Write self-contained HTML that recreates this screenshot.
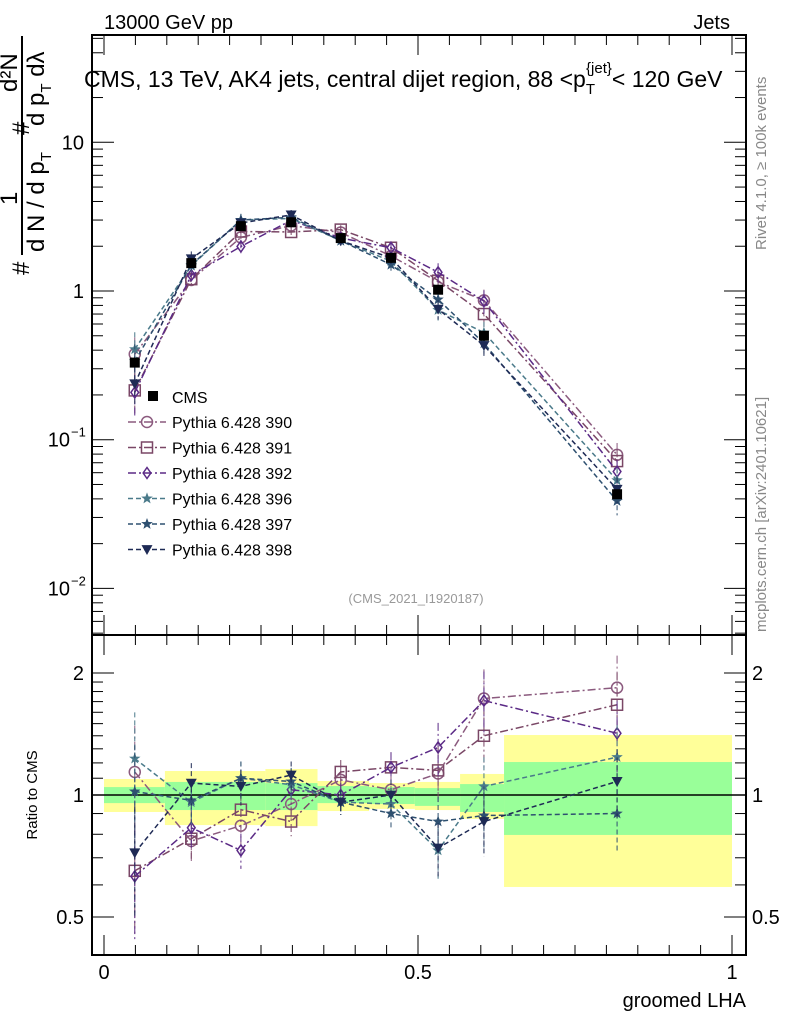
<!DOCTYPE html>
<html><head><meta charset="utf-8"><style>
body{margin:0;background:#fff;}
svg text{font-family:"Liberation Sans",sans-serif;}
</style></head><body>
<svg id="c" width="786" height="1024" xmlns="http://www.w3.org/2000/svg">
<rect width="786" height="1024" fill="#fff"/>
<text x="104" y="29" font-size="20">13000 GeV pp</text>
<text x="730" y="29" font-size="20" text-anchor="end">Jets</text>
<text x="84" y="87" font-size="23">CMS, 13 TeV, AK4 jets, central dijet region, 88 &lt;p<tspan font-size="15" dy="7">T</tspan><tspan font-size="15" dy="-21" dx="-9">{jet}</tspan><tspan dy="14">&lt; 120 GeV</tspan></text>
<text transform="translate(766,250) rotate(-90)" font-size="15" fill="#888">Rivet 4.1.0, ≥ 100k events</text>
<text transform="translate(766,632) rotate(-90)" font-size="15" fill="#888">mcplots.cern.ch [arXiv:2401.10621]</text>
<g>
<text transform="translate(29,275) rotate(-90)" font-size="24">#</text>
<text transform="translate(17,205) rotate(-90)" font-size="24">1</text>
<line x1="22" y1="255" x2="22" y2="36" stroke="#000" stroke-width="2"/>
<text transform="translate(44,252) rotate(-90)" font-size="24">d N / d p<tspan font-size="15" dy="7">T</tspan></text>
<text transform="translate(29,135) rotate(-90)" font-size="24">#</text>
<text transform="translate(17,92) rotate(-90)" font-size="24">d²N</text>
<text transform="translate(44,126) rotate(-90)" font-size="24">d p<tspan font-size="15" dy="7">T</tspan><tspan dy="-7"> dλ</tspan></text>
</g>
<text x="416" y="603" font-size="13" fill="#999" text-anchor="middle">(CMS_2021_I1920187)</text>
<text transform="translate(37,795) rotate(-90)" font-size="15" text-anchor="middle">Ratio to CMS</text>
<text x="746" y="1007" font-size="20" text-anchor="end">groomed LHA</text>
<g id="bands"></g><g id="axes"></g><g id="series"></g><g id="legend"></g>
</svg>
<script>
const xVals=[0.049,0.139,0.218,0.298,0.377,0.457,0.532,0.605,0.817];
const binEdges=[0,0.097,0.257,0.34,0.422,0.495,0.567,0.637,1.0];
const cmsVals=[0.33,1.54,2.73,2.9,2.27,1.67,1.02,0.5,0.043];
const yellowLo=[0.908,0.843,0.838,0.913,0.924,0.918,0.873,0.593];
const yellowHi=[1.095,1.146,1.159,1.083,1.07,1.077,1.127,1.406];
const greenLo=[0.955,0.918,0.918,0.955,0.95,0.94,0.908,0.797];
const greenHi=[1.046,1.077,1.07,1.052,1.046,1.04,1.064,1.206];
const r390=[1.14,0.77,0.84,0.95,1.09,1.03,1.13,1.73,1.84];
const r391=[0.65,0.78,0.92,0.86,1.14,1.17,1.15,1.4,1.67];
const r392=[0.63,0.83,0.73,1.03,1.0,1.17,1.31,1.71,1.42];
const r396=[1.23,0.96,1.1,1.06,0.96,0.95,0.73,1.05,1.24];
const r397=[1.02,0.97,1.1,1.08,0.96,0.9,0.86,0.89,0.9];
const r398=[0.72,1.07,1.05,1.12,0.96,1.0,0.74,0.86,1.08];
const relErr=[0.3,0.12,0.1,0.08,0.07,0.09,0.15,0.18,0.2];
const names=["Pythia 6.428 390","Pythia 6.428 391","Pythia 6.428 392","Pythia 6.428 396","Pythia 6.428 397","Pythia 6.428 398"];
const ratios=[r390,r391,r392,r396,r397,r398];
const colors=["#8b5a7e","#7a4766","#5b2a86","#4a7a8a","#2e5070","#1e2a55"];
const dashes=["8,3,2,3","8,3,2,3","8,3,2,3","5,3","5,3","5,3"];
const markers=["circle","square","diamond","star","star","tri"];
const xMain=[0,0.5,1];
const NS="http://www.w3.org/2000/svg";
const L=92,R=746,T=35,MB=635,RB=955;
const X=v=>104+628*v;
const YM=v=>291-148.7*Math.log10(v);
const YR=v=>795-122*Math.log2(v);
function mk(t,a,p){const e=document.createElementNS(NS,t);for(const k in a)e.setAttribute(k,a[k]);(p||document.getElementById('axes')).appendChild(e);return e;}
const bg=document.getElementById('bands');
for(let i=0;i<binEdges.length-1;i++){
 const y=mk('rect',{x:X(binEdges[i]),y:YR(yellowHi[i]),width:X(binEdges[i+1])-X(binEdges[i]),height:YR(yellowLo[i])-YR(yellowHi[i]),fill:'#ffff99'},bg);
 
 
 const g=mk('rect',{x:X(binEdges[i]),y:YR(greenHi[i]),width:X(binEdges[i+1])-X(binEdges[i]),height:YR(greenLo[i])-YR(greenHi[i]),fill:'#99ff99'},bg);
 
 
}
mk('rect',{x:L,y:T,width:R-L,height:MB-T,fill:'none',stroke:'#000','stroke-width':2});
mk('rect',{x:L,y:MB,width:R-L,height:RB-MB,fill:'none',stroke:'#000','stroke-width':2});
mk('line',{x1:L,x2:R,y1:YR(1),y2:YR(1),stroke:'#000','stroke-width':1.5});
for(let d=-3;d<=1;d++){for(let m=1;m<10;m++){const v=m*Math.pow(10,d);const y=YM(v);if(y<T||y>MB)continue;const len=m==1?22:11;
 mk('line',{x1:L,x2:L+len,y1:y,y2:y,stroke:'#000'});mk('line',{x1:R,x2:R-len,y1:y,y2:y,stroke:'#000'});}}
const yl=[[10,"10"],[1,"1"],[0.1,"10"],[0.01,"10"]];
yl.forEach((a,i)=>{const t=mk('text',{x:i>1?70:84,y:YM(a[0])+7,'font-size':20,'text-anchor':'end'});t.textContent=a[1];
 
 
 if(i>1){const s=mk('text',{x:71,y:YM(a[0])-3,'font-size':13});s.textContent=i==2?"−1":"−2";}});
[0.5,0.6,0.7,0.8,0.9,1,2].forEach(v=>{const y=YR(v);const len=(v==0.5||v==1||v==2)?22:11;mk('line',{x1:L,x2:L+len,y1:y,y2:y,stroke:'#000'});mk('line',{x1:R,x2:R-len,y1:y,y2:y,stroke:'#000'});});
for(let v=1.1;v<2;v+=0.1){const y=YR(v);mk('line',{x1:L,x2:L+11,y1:y,y2:y,stroke:'#000'});mk('line',{x1:R,x2:R-11,y1:y,y2:y,stroke:'#000'});}
[[2,"2"],[1,"1"],[0.5,"0.5"]].forEach(a=>{const t=mk('text',{x:84,y:YR(a[0])+7,'font-size':20,'text-anchor':'end'});t.textContent=a[1];
 
 
 const t2=mk('text',{x:752,y:YR(a[0])+7,'font-size':20});t2.textContent=a[1];});
for(let v=0;v<=1.0001;v+=0.05){const x=X(v);const big=Math.abs(v*2-Math.round(v*2))<1e-6;const len=big?20:10;
 [T,MB].forEach(y0=>mk('line',{x1:x,x2:x,y1:y0,y2:y0+len,stroke:'#000'}));
 [MB,RB].forEach(y0=>mk('line',{x1:x,x2:x,y1:y0,y2:y0-len,stroke:'#000'}));}
xMain.forEach(v=>{const t=mk('text',{x:X(v),y:979,'font-size':20,'text-anchor':'middle'});t.textContent=String(v);
 
 });
function marker(type,x,y,c,p,s){s=s||5.5;
 if(type=="circle")return mk('circle',{cx:x,cy:y,r:s,fill:'none',stroke:c,'stroke-width':1.5},p);
 if(type=="square")return mk('rect',{x:x-s,y:y-s,width:2*s,height:2*s,fill:'none',stroke:c,'stroke-width':1.5},p);
 if(type=="diamond")return mk('polygon',{points:`${x},${y-s} ${x+s*0.7},${y} ${x},${y+s} ${x-s*0.7},${y}`,fill:'none',stroke:c,'stroke-width':1.5},p);
 if(type=="cms")return mk('rect',{x:x-5,y:y-5,width:10,height:10,fill:'#000'},p);
 if(type=="tri")return mk('polygon',{points:`${x-s},${y-s*0.8} ${x+s},${y-s*0.8} ${x},${y+s}`,fill:c},p);
 let pts=[];for(let k=0;k<10;k++){const rr=k%2?s*0.45:s*1.1;const a=-Math.PI/2+k*Math.PI/5;pts.push((x+rr*Math.cos(a)).toFixed(1)+","+(y+rr*Math.sin(a)).toFixed(1));}
 return mk('polygon',{points:pts.join(" "),fill:c},p);}
const sg=document.getElementById('series');
ratios.forEach((r,si)=>{const g=mk('g',{},sg);
 
 
 const vals=r.map((q,i)=>q*cmsVals[i]);
 mk('polyline',{points:vals.map((v,i)=>X(xVals[i])+","+YM(v)).join(" "),fill:'none',stroke:colors[si],'stroke-width':1.5,'stroke-dasharray':dashes[si]},g);
 mk('polyline',{points:r.map((v,i)=>X(xVals[i])+","+YR(v)).join(" "),fill:'none',stroke:colors[si],'stroke-width':1.5,'stroke-dasharray':dashes[si]},g);
 xVals.forEach((xv,i)=>{const x=X(xv);const e=relErr[i];
  mk('line',{x1:x,x2:x,y1:YM(vals[i]*(1+e)),y2:YM(vals[i]*(1-e)),stroke:colors[si],'stroke-dasharray':dashes[si]},g);
  mk('line',{x1:x,x2:x,y1:YR(r[i]*(1+e)),y2:YR(r[i]*(1-e)),stroke:colors[si],'stroke-dasharray':dashes[si]},g);
  marker(markers[si],x,YM(vals[i]),colors[si],g);
  marker(markers[si],x,YR(r[i]),colors[si],g);});
});
const cg=mk('g',{},sg);


cmsVals.forEach((v,i)=>{marker('cms',X(xVals[i]),YM(v),'#000',cg);});
const lg=document.getElementById('legend');
const ce=mk('g',{},lg);


marker('cms',153,396,'#000',ce);
const ct=mk('text',{x:172,y:403,'font-size':16},ce);ct.textContent="CMS";
names.forEach((n,i)=>{const y=422+i*25.5;const g=mk('g',{},lg);
 
 
 mk('line',{x1:128,x2:166,y1:y,y2:y,stroke:colors[i],'stroke-width':1.5,'stroke-dasharray':dashes[i]},g);
 marker(markers[i],147,y,colors[i],g);
 const t=mk('text',{x:172,y:y+6,'font-size':16},g);t.textContent=n;});
</script>
</body></html>
